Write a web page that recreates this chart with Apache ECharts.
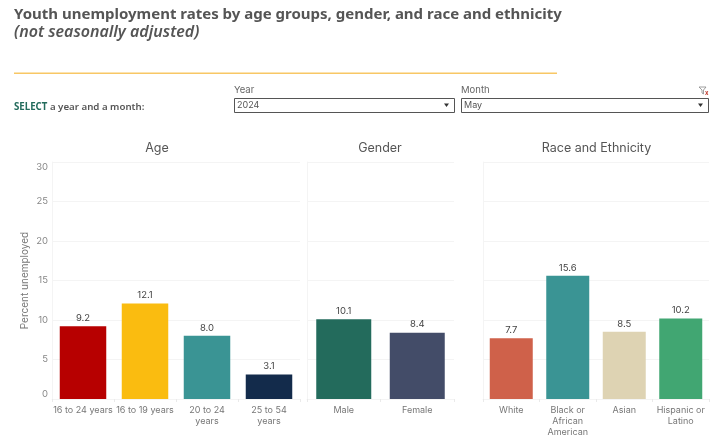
<!DOCTYPE html>
<html><head><meta charset="utf-8">
<style>html,body{margin:0;padding:0;background:#fff}#c{width:720px;height:441px}</style>
<script src="https://cdn.jsdelivr.net/npm/echarts@6/dist/echarts.min.js"></script>
</head><body><div id="c"></div>
<script>
const ageCats = ['16 to 24 years','16 to 19 years','20 to 24\nyears','25 to 54\nyears'];
const ageVals = [9.2,12.1,8.0,3.1];
const ageColors = ['#B70000','#FABC10','#3A9494','#132B4B'];
const genderCats = ['Male','Female'];
const genderVals = [10.1,8.4];
const genderColors = ['#236B5C','#434C68'];
const raceCats = ['White','Black or\nAfrican\nAmerican','Asian','Hispanic or\nLatino'];
const raceVals = [7.7,15.6,8.5,10.2];
const raceColors = ['#CF614A','#3A9494','#DED3B3','#41A672'];
const yTicks = [0,5,10,15,20,25,30];

const FONT = 'Inter, "Open Sans", sans-serif';
const HEAD = '"Noto Sans", "Open Sans", sans-serif';
const panels = [
  {name:'Age',cats:ageCats,vals:ageVals,colors:ageColors,left:52,right:300,bw:46.5,cx:157},
  {name:'Gender',cats:genderCats,vals:genderVals,colors:genderColors,left:307,right:454,bw:55,cx:380},
  {name:'Race and Ethnicity',cats:raceCats,vals:raceVals,colors:raceColors,left:483,right:709,bw:43,cx:596.5}
];
const GL='#F4F4F4';
const chart = echarts.init(document.getElementById('c'),null,{renderer:'canvas'});
chart.setOption({
  animation:false,
  backgroundColor:'#fff',
  title:[
    {text:'Youth unemployment rates by age groups, gender, and race and ethnicity',left:14,top:7,padding:0,textStyle:{fontFamily:HEAD,fontSize:15,fontWeight:700,color:'#555'}},
    {text:'(not seasonally adjusted)',left:14,top:24,padding:0,textStyle:{fontFamily:HEAD,fontSize:16,fontWeight:600,fontStyle:'italic',color:'#555'}},
    ...panels.map(p=>({text:p.name,left:p.cx,top:141.5,padding:0,textAlign:'center',textStyle:{fontFamily:FONT,fontSize:12.5,fontWeight:400,color:'#555'}}))
  ],
  grid:panels.map(p=>({left:p.left,width:p.right-p.left,top:162,height:237,containLabel:false})),
  xAxis:panels.map((p,i)=>({type:'category',gridIndex:i,data:p.cats,
    axisLine:{show:true,lineStyle:{color:GL,width:1}},
    axisTick:{show:true,length:3,lineStyle:{color:'#EAEAEA'}},
    axisLabel:{interval:0,fontFamily:FONT,fontSize:9,color:'#777',margin:5.5,lineHeight:11}})),
  yAxis:panels.map((p,i)=>({type:'value',gridIndex:i,min:0,max:30,interval:5,
    name:i===0?'Percent unemployed':'',nameLocation:'middle',nameGap:22,nameRotate:90,
    nameTextStyle:{fontFamily:FONT,fontSize:10,color:'#777'},
    axisLine:{show:true,lineStyle:{color:GL,width:1}},axisTick:{show:false},
    splitLine:{show:true,lineStyle:{color:GL,width:1}},
    axisLabel:{show:i===0,fontFamily:FONT,fontSize:9.5,color:'#888',margin:4,
      verticalAlignMinLabel:'bottom',verticalAlignMaxLabel:'top',
      formatter:v=>yTicks.includes(v)?String(v):''}})),
  series:panels.map((p,i)=>({type:'bar',xAxisIndex:i,yAxisIndex:i,barWidth:p.bw,
    data:p.vals.map((v,j)=>({value:v,itemStyle:{color:p.colors[j]}})),
    label:{show:true,position:'top',distance:3,fontFamily:FONT,fontSize:9.5,color:'#444',formatter:o=>o.value.toFixed(1)}})),
  graphic:[
    {type:'rect',silent:true,shape:{x:14,y:72.5,width:543,height:1.5},style:{fill:'#F8C765'}},
    {type:'text',silent:true,x:14,y:102.5,style:{text:'{a|SELECT}{b| a year and a month:}',rich:{a:{fontFamily:HEAD,fontSize:9.7,fontWeight:700,fill:'#236B5C',color:'#236B5C'},b:{fontFamily:HEAD,fontSize:9.7,fontWeight:600,fill:'#555',color:'#555'}}}},
    {type:'text',silent:true,x:234,y:85.5,style:{text:'Year',fontFamily:FONT,fontSize:9.5,fill:'#666'}},
    {type:'text',silent:true,x:461,y:85.5,style:{text:'Month',fontFamily:FONT,fontSize:9.5,fill:'#666'}},
    {type:'rect',silent:true,shape:{x:234.5,y:98.5,width:220,height:14},style:{fill:'#fff',stroke:'#555',lineWidth:1}},
    {type:'rect',silent:true,shape:{x:461.5,y:98.5,width:247,height:14},style:{fill:'#fff',stroke:'#555',lineWidth:1}},
    {type:'text',silent:true,x:237,y:100.5,style:{text:'2024',fontFamily:FONT,fontSize:9,fill:'#555'}},
    {type:'text',silent:true,x:464,y:100.5,style:{text:'May',fontFamily:FONT,fontSize:9,fill:'#555'}},
    {type:'polygon',silent:true,shape:{points:[[444,103.5],[449,103.5],[446.5,107]]},style:{fill:'#333'}},
    {type:'polygon',silent:true,shape:{points:[[698,103.5],[703,103.5],[700.5,107]]},style:{fill:'#333'}},
    {type:'polyline',silent:true,shape:{points:[[699,87],[706,87],[703.5,90],[703.5,94],[702,93],[702,90],[699,87]]},style:{fill:'none',stroke:'#888',lineWidth:0.8}},
    {type:'text',silent:true,x:705,y:90,style:{text:'x',fontFamily:FONT,fontSize:6,fontWeight:700,fill:'#C0392B'}}
  ]
});
</script></body></html>
